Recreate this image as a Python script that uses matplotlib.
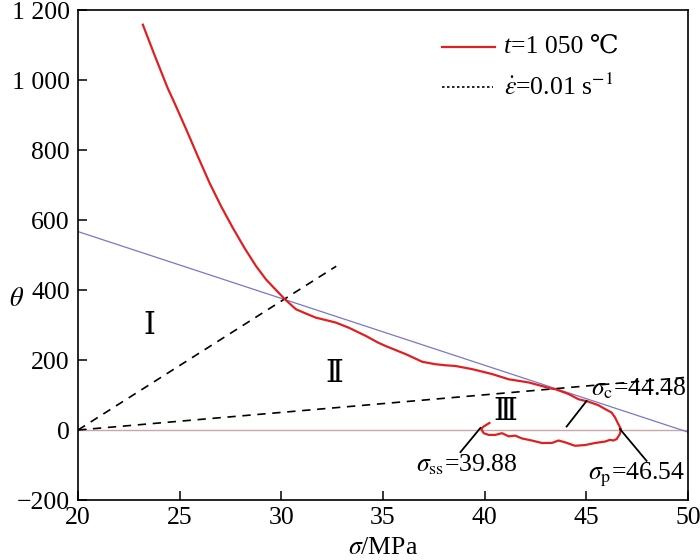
import numpy as np
import matplotlib.pyplot as plt
from matplotlib.ticker import FuncFormatter

plt.rcParams['font.family'] = ['Liberation Serif', 'DejaVu Serif', 'DejaVu Sans']
plt.rcParams['mathtext.fontset'] = 'stix'

# theta-sigma curve (t=1050 C, strain rate 0.01 s-1)
sigma = [23.19, 23.76, 24.41, 24.75, 25.33, 25.90, 26.47, 27.04, 27.61, 28.19,
         28.76, 29.25, 29.74, 30.15, 30.72, 31.2, 31.70, 32.2, 32.68, 33.33,
         34.15, 34.75, 35.13, 36.11, 36.93, 37.58, 38.07, 38.56, 39.38, 40.36,
         41.18, 42.16, 42.48, 43.30, 43.46, 44.12, 44.61, 45.10, 45.59, 45.92,
         46.24, 46.41, 46.57, 46.70, 46.65, 46.49, 46.32, 46.16, 45.92, 45.43,
         44.93, 44.44, 43.95, 43.63, 43.30, 42.81, 42.32, 41.83, 41.50, 41.18,
         40.85, 40.52, 40.20, 39.95, 39.83, 39.95, 40.23]
theta = [1158, 1072, 977, 934, 858, 781, 706, 639, 578, 520,
         468, 430, 400, 375, 345, 333, 321, 314, 307, 292,
         269, 250, 240, 217, 195, 188, 185, 183, 174, 160,
         145, 136, 131, 118, 117, 103, 88, 81, 71, 60,
         50, 36, 17, 3, -11, -26, -30, -28, -33, -37,
         -43, -45, -35, -30, -37, -37, -30, -24, -16, -18,
         -9, -14, -14, -9, 3, 10, 20]

# reference lines
tangent_x = [20, 50]
tangent_y = [567, -6]
dash1_x = [20, 32.7]
dash1_y = [0, 468]
dash2_x = [20, 50]
dash2_y = [0, 151]

# characteristic stresses: label, leader line x, leader line y, text x, text y
marks = [
    (r'$\sigma_{\rm c}$=44.48', [44.03, 45.01], [10, 83], 45.25, 98),
    (r'$\sigma_{\rm ss}$=39.88', [38.81, 39.79], [-63, 6], 36.62, -117),
    (r'$\sigma_{\rm p}$=46.54', [46.65, 47.96], [3, -88], 45.1, -140),
]
stages = ['Ⅰ', 'Ⅱ', 'Ⅲ']
stage_x = [23.53, 32.6, 41.03]
stage_y = [296, 160, 51]

fig = plt.figure(figsize=(7, 5.6), dpi=100)
ax = fig.add_axes([0.1114, 0.1071, 0.8715, 0.875])

ax.axhline(0, color='#c8a8a8', lw=1.0)
ax.plot(tangent_x, tangent_y, color='#7878c8', lw=0.9)
ax.plot(dash1_x, dash1_y, color='black', lw=1.2, ls=(0, (5, 4)))
ax.plot(dash2_x, dash2_y, color='black', lw=1.2, ls=(0, (5, 4)))
ax.plot(sigma, theta, color='#e02020', lw=1.6)

for lab, lx, ly, tx, ty in marks:
    ax.plot(lx, ly, color='black', lw=1.3)
    ax.text(tx, ty, lab, fontsize=18.5, ha='left', va='baseline')

for s, x, y in zip(stages, stage_x, stage_y):
    ax.text(x, y, s, fontsize=22, ha='center', va='center',
            family=['Liberation Serif', 'DejaVu Serif', 'DejaVu Sans', 'Noto Sans CJK SC'])

ax.set_xlim(20, 50)
ax.set_ylim(-200, 1200)
ax.set_xticks([20, 25, 30, 35, 40, 45, 50])
ax.set_yticks([-200, 0, 200, 400, 600, 800, 1000, 1200])

def fmt(v, pos):
    v = int(v)
    s = '{:,}'.format(abs(v)).replace(',', ' ')
    return ('\u2212' if v < 0 else '') + s

ax.yaxis.set_major_formatter(FuncFormatter(fmt))
ax.tick_params(direction='in', length=6.5, width=1.1, labelsize=18.5,
               top=False, right=False)
ax.tick_params(axis='y', pad=6)
ax.tick_params(axis='x', pad=5)
for sp in ax.spines.values():
    sp.set_linewidth(1.2)

# legend, drawn by hand so the italic t and the ℃ sign can share a row
ax.plot([0.597, 0.684], [0.9245, 0.9245], transform=ax.transAxes,
        color='#e02020', lw=1.6)
ax.plot([0.597, 0.681], [0.843, 0.843], transform=ax.transAxes,
        color='black', lw=1.2, ls=(0, (1.5, 1.5)))
t1 = ax.text(0.698, 0.9245, 't', transform=ax.transAxes, fontsize=18.5,
             style='italic', ha='left', va='center')
ax.annotate('=1 050 ℃', xy=(1, 0), xycoords=t1, va='bottom', ha='left',
            fontsize=18.5, family=['Liberation Serif', 'DejaVu Serif', 'DejaVu Sans'])
ax.text(0.698, 0.843, r'$\dot{\varepsilon}$=0.01 s$^{-1}$', transform=ax.transAxes,
        fontsize=18.5, ha='left', va='center')

fig.text(17 / 700, 1 - 300 / 560, r'$\theta$', fontsize=19, ha='center', va='center')
fig.text(383 / 700, 1 - 548 / 560, r'$\sigma$/MPa', fontsize=18.5, ha='center', va='center')

fig.savefig('out.png', dpi=100)
